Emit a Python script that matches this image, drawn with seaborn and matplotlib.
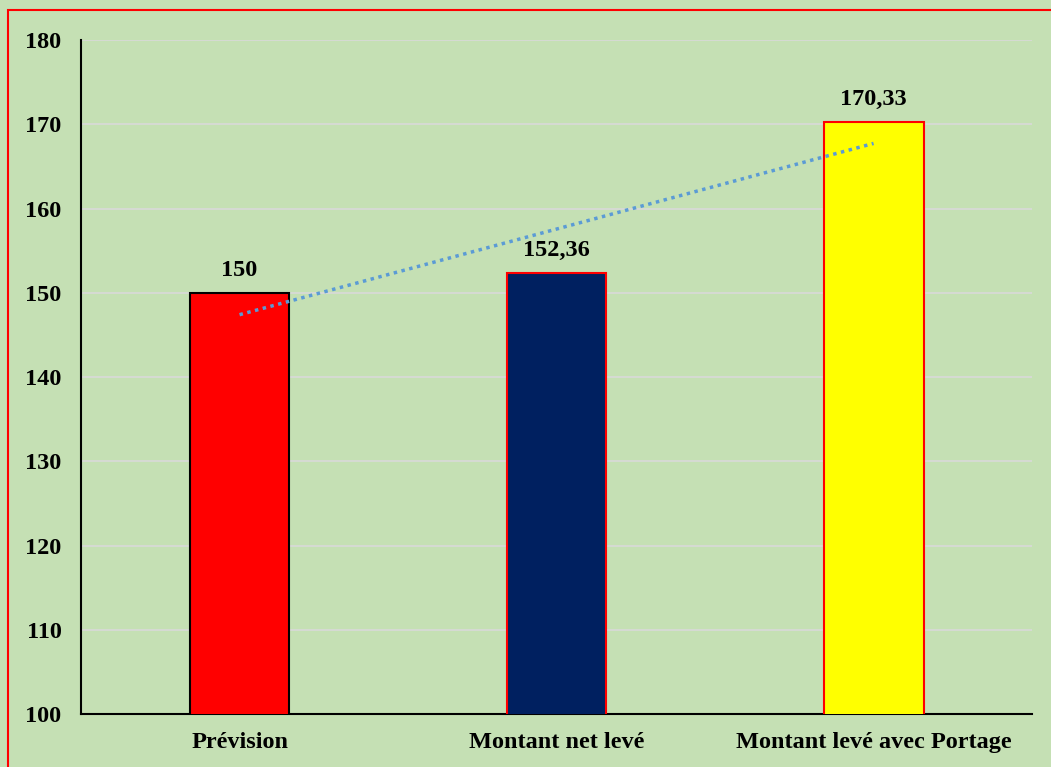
import numpy as np
import pandas as pd
import matplotlib
matplotlib.use('Agg')
import matplotlib.pyplot as plt
import seaborn as sns

# Données
categories = ['Prévision', 'Montant net levé', 'Montant levé avec Portage']
valeurs = [150, 152.36, 170.33]
etiquettes = ['150', '152,36', '170,33']
couleurs = ['#FF0000', '#002060', '#FFFF00']
bordures = ['#000000', '#FF0000', '#FF0000']

df = pd.DataFrame({'categorie': categories, 'valeur': valeurs})

sns.set_style('white')
plt.rcParams['font.family'] = ['Liberation Serif', 'DejaVu Serif']
plt.rcParams['font.weight'] = 'bold'
plt.rcParams['text.color'] = 'black'
plt.rcParams['xtick.color'] = 'black'
plt.rcParams['ytick.color'] = 'black'

fond = '#C5E0B4'
fig = plt.figure(figsize=(10.51, 7.67), dpi=100, facecolor=fond)
ax = fig.add_axes([0.0771, 0.0691, 0.9049, 0.8787])
ax.set_facecolor(fond)

# cadre rouge autour du graphique
fig.patches.append(plt.Rectangle((8 / 1051, -0.01), 1.02, 1 - 10 / 767 + 0.01,
                                 transform=fig.transFigure, fill=False,
                                 edgecolor='#FF0000', linewidth=1.5, zorder=0))

sns.barplot(data=df, x='categorie', y='valeur', hue='categorie', palette=couleurs,
            width=0.315, legend=False, saturation=1, ax=ax, zorder=3)
for barre, bord in zip(ax.patches, bordures):
    barre.set_edgecolor(bord)
    barre.set_linewidth(1.5)

# courbe de tendance linéaire
x = np.arange(len(valeurs))
pente, origine = np.polyfit(x, valeurs, 1)
ax.plot(x, pente * x + origine, linestyle=(0, (1, 1.3)), color='#5B9BD5',
        linewidth=2.5, zorder=4)

for xi, v, lab in zip(x, valeurs, etiquettes):
    ax.text(xi, v + 1.4, lab, ha='center', va='bottom', fontsize=17.5,
            fontweight='bold', color='black')

ax.set_xlim(-0.5, 2.5)
ax.set_ylim(100, 180)
ax.set_yticks(range(100, 181, 10))
ax.yaxis.grid(True, color='#D9D9D9', linewidth=1.2, zorder=0)
ax.set_axisbelow(True)
ax.set_xlabel('')
ax.set_ylabel('')
ax.tick_params(axis='both', length=0, labelsize=17.5, labelcolor='black')
ax.tick_params(axis='y', pad=14)
ax.tick_params(axis='x', pad=13)
for lab in ax.get_xticklabels() + ax.get_yticklabels():
    lab.set_fontweight('bold')

for s in ['top', 'right']:
    ax.spines[s].set_visible(False)
ax.spines['left'].set_color('black')
ax.spines['bottom'].set_color('black')
ax.spines['left'].set_linewidth(1.5)
ax.spines['bottom'].set_linewidth(1.5)

fig.savefig('out.png', dpi=100, facecolor=fond)
